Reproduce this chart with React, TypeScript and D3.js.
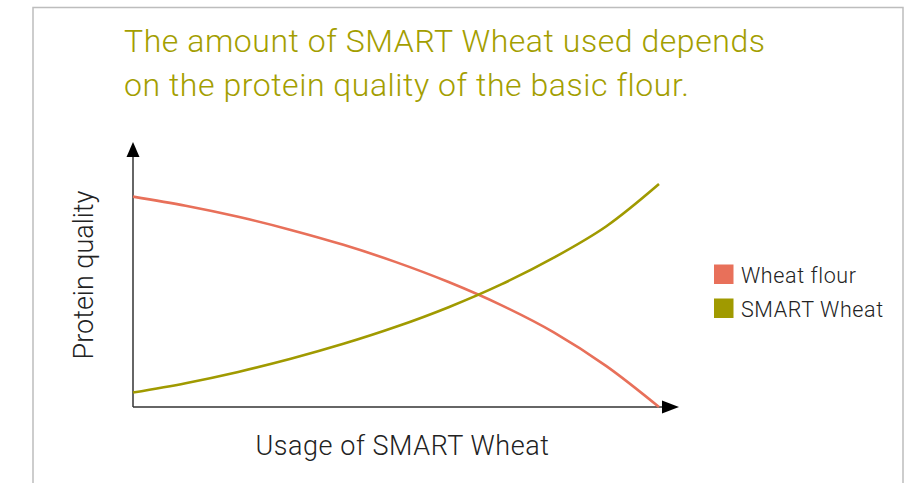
import React from "react";
import * as d3 from "d3";

const titleLines = [
  "The amount of SMART Wheat used depends",
  "on the protein quality of the basic flour.",
];
const xLabel = "Usage of SMART Wheat";
const yLabel = "Protein quality";
const seriesNames = ["Wheat flour", "SMART Wheat"];
const seriesColors = ["#e8705a", "#a09a00"];

const usage = [0, 1, 2, 3, 4, 5, 6, 7, 8, 9, 10];
const wheatFlour = [80.3, 76.8, 72.6, 67.6, 61.9, 55.3, 47.7, 38.9, 28.5, 15.6, 0];
const smartWheat = [5.5, 9.1, 13.4, 18.4, 24.1, 30.6, 38.1, 46.8, 57.0, 69.0, 85.1];

const W = 913;
const H = 483;
const FONT = "Roboto, 'Liberation Sans', Arial, sans-serif";

export default function App() {
  const x = d3.scaleLinear().domain([0, 10]).range([133, 659]);
  const y = d3.scaleLinear().domain([0, 100]).range([407, 145]);

  const line = d3
    .line<number>()
    .x((_, i) => x(usage[i]))
    .y((d) => y(d))
    .curve(d3.curveCatmullRom.alpha(0.5));

  const series = [wheatFlour, smartWheat];

  const x0 = x(0);
  const y0 = y(0);
  const xEnd = x(10) + 20;
  const yEnd = y(100) - 3;

  return (
    <svg
      width={W}
      height={H}
      style={{ position: "absolute", left: 0, top: 0, background: "#fff" }}
    >
      {/* frame */}
      <path
        d={`M33,${H + 2} V7.5 H903 V${H + 2}`}
        fill="none"
        stroke="#bdbdbd"
        strokeWidth={1.5}
      />
      {/* title */}
      <g
        fill="#a39e00"
        fontFamily={FONT}
        fontWeight={300}
        fontSize={32}
        letterSpacing={0.55}
      >
        {titleLines.map((t, i) => (
          <text key={i} x={124} y={51.5 + i * 44}>
            {t}
          </text>
        ))}
      </g>
      {/* axes */}
      <g stroke="#333" strokeWidth={1.5} fill="none">
        <line x1={x0} y1={y0} x2={xEnd - 14} y2={y0} />
        <line x1={x0} y1={y0} x2={x0} y2={yEnd + 14} />
      </g>
      <path
        d={`M${xEnd},${y0} L${xEnd - 17},${y0 - 6.5} L${xEnd - 17},${y0 + 6.5} Z`}
        fill="#000"
      />
      <path
        d={`M${x0},${yEnd} L${x0 - 6.5},${yEnd + 15} L${x0 + 6.5},${yEnd + 15} Z`}
        fill="#000"
      />
      {/* curves */}
      {series.map((s, i) => (
        <path
          key={i}
          d={line(s) || ""}
          fill="none"
          stroke={seriesColors[i]}
          strokeWidth={2.6}
        />
      ))}
      {/* axis labels */}
      <text
        x={402.5}
        y={455}
        textAnchor="middle"
        fontFamily={FONT}
        fontWeight={300}
        fontSize={27}
        letterSpacing={0.55}
        fill="#222"
      >
        {xLabel}
      </text>
      <text
        transform={`translate(93,275) rotate(-90)`}
        textAnchor="middle"
        fontFamily={FONT}
        fontWeight={300}
        fontSize={27}
        fill="#222"
      >
        {yLabel}
      </text>
      {/* legend */}
      {seriesNames.map((n, i) => (
        <g key={n} transform={`translate(714,${264.5 + i * 34})`}>
          <rect width={19.5} height={19.5} fill={seriesColors[i]} />
          <text
            x={27}
            y={18.3}
            fontFamily={FONT}
            fontWeight={300}
            fontSize={21.5}
            letterSpacing={0.6}
            fill="#222"
          >
            {n}
          </text>
        </g>
      ))}
    </svg>
  );
}
